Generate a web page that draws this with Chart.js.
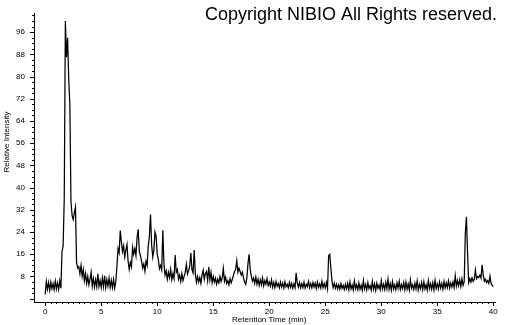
<!DOCTYPE html>
<html>
<head>
<meta charset="utf-8">
<title>Chromatogram</title>
<script src="https://cdn.jsdelivr.net/npm/chart.js"></script>
<style>
    html, body { margin: 0; padding: 0; background: #fff; }
    #wrap { width: 505px; height: 325px; position: relative; }
</style>
</head>
<body>
<div id="wrap"><canvas id="chromatogram" width="505" height="325"></canvas></div>
<script>
// Sampling grid of the trace (min)
const SCAN_STEP = 0.1;

// Relative intensity, one value per scan, in four runs of retention time
const intensity0to10 = [
    1.5, 6.2, 3.4, 5.8, 3.1, 6.0, 3.6, 5.4, 3.2, 6.3,
    3.5, 5.7, 3.3, 6.4, 3.8, 17.0, 19.0, 36.0, 100.0, 87.0,
    94.0, 79.0, 70.0, 35.0, 30.0, 28.5, 31.0, 33.0, 13.0, 11.0,
    11.5, 9.0, 12.0, 8.0, 10.5, 6.5, 9.0, 5.5, 8.0, 5.0,
    7.0, 9.5, 4.5, 7.2, 4.2, 6.8, 4.3, 9.0, 4.4, 6.5,
    4.0, 7.5, 4.3, 8.2, 4.0, 6.9, 4.5, 7.4, 4.1, 6.6,
    4.0, 7.0, 3.8, 6.0, 11.5, 18.0, 16.5, 24.5, 20.5, 17.0,
    19.0, 15.0, 17.5, 19.5, 13.5, 10.5, 13.0, 11.5, 18.5, 16.0,
    18.0, 15.5, 22.0, 25.0, 17.0, 15.5, 13.5, 11.0, 12.5, 9.9,
    13.5, 12.0, 19.0, 22.5, 30.3, 19.5, 15.0, 17.5, 24.0, 22.5
];
const intensity10to20 = [
    16.0, 14.0, 10.8, 12.0, 10.4, 24.6, 12.5, 8.5, 10.0, 7.0,
    9.5, 7.5, 10.5, 6.8, 9.0, 7.2, 15.7, 9.5, 10.5, 7.0,
    8.5, 6.2, 9.0, 6.5, 8.0, 9.5, 12.4, 8.9, 10.0, 11.8,
    16.4, 10.5, 9.3, 17.5, 9.0, 5.9, 8.0, 6.0, 7.6, 5.5,
    8.5, 10.3, 7.0, 9.0, 9.8, 6.5, 11.4, 6.8, 9.5, 5.8,
    8.0, 6.0, 7.4, 5.2, 7.0, 5.7, 8.0, 6.2, 7.5, 10.9,
    6.3, 7.8, 5.5, 6.5, 5.0, 7.2, 5.7, 7.0, 8.4, 9.8,
    10.5, 13.7, 9.5, 11.0, 9.8, 8.5, 9.5, 7.5, 6.0, 5.2,
    7.5, 12.6, 16.0, 10.5, 8.0, 6.3, 7.5, 5.5, 7.8, 5.2,
    7.0, 4.8, 6.8, 5.0, 7.5, 4.6, 6.5, 5.2, 7.2, 4.8
];
const intensity20to30 = [
    6.0, 4.5, 6.8, 4.2, 5.8, 4.0, 6.2, 4.5, 5.5, 3.9,
    6.0, 4.2, 5.6, 3.8, 6.1, 4.3, 5.2, 3.9, 5.9, 4.1,
    5.5, 3.8, 5.3, 4.0, 9.3, 5.6, 4.2, 5.8, 3.9, 5.4,
    4.0, 6.0, 3.8, 5.2, 4.3, 6.2, 4.0, 5.5, 3.9, 5.8,
    4.2, 5.6, 3.7, 6.0, 4.1, 5.3, 3.8, 6.3, 4.0, 5.5,
    3.9, 5.8, 3.6, 15.5, 16.0, 11.0, 6.3, 4.0, 5.6, 3.8,
    5.2, 3.5, 5.0, 3.4, 5.4, 3.7, 4.8, 3.3, 5.2, 3.6,
    5.5, 3.2, 6.0, 3.5, 4.9, 3.1, 6.4, 3.6, 5.0, 3.3,
    5.7, 3.4, 4.8, 3.0, 6.6, 3.5, 5.1, 3.2, 5.8, 3.6,
    4.7, 3.1, 6.2, 3.4, 5.3, 3.0, 5.6, 3.7, 4.9, 3.2
];
const intensity30to40 = [
    6.5, 3.5, 5.2, 3.3, 5.9, 3.6, 7.0, 3.4, 5.4, 3.1,
    6.1, 3.5, 5.0, 3.2, 5.7, 3.8, 6.3, 3.3, 5.1, 3.6,
    5.8, 3.2, 6.0, 3.4, 5.3, 3.1, 6.8, 3.7, 5.0, 3.3,
    5.6, 3.5, 6.4, 3.2, 5.2, 3.6, 5.9, 3.3, 6.1, 3.5,
    5.0, 3.1, 6.5, 3.6, 5.4, 3.4, 5.8, 3.2, 6.6, 3.7,
    5.3, 3.5, 6.0, 3.8, 5.5, 3.4, 6.2, 3.9, 5.7, 4.0,
    6.4, 3.8, 5.6, 4.2, 6.0, 4.1, 8.3, 4.5, 6.5, 4.6,
    6.8, 4.4, 7.2, 4.8, 6.0, 23.5, 29.5, 16.6, 5.8, 7.2,
    6.0, 7.5, 6.2, 7.0, 10.3, 7.2, 8.0, 7.6, 8.5, 7.4,
    12.2, 8.5, 6.3, 7.0, 5.8, 6.5, 5.5, 8.1, 5.5, 4.8,
    4.3
];

// Labelled ticks
const timeTicks = [0, 5, 10, 15, 20, 25, 30, 35, 40];
const intensityTicks = [8, 16, 24, 32, 40, 48, 56, 64, 72, 80, 88, 96];

const intensity = [...intensity0to10, ...intensity10to20, ...intensity20to30, ...intensity30to40];
const trace = intensity.map((v, i) => ({ x: Math.round(i * SCAN_STEP * 10) / 10, y: v }));

// Minor/major tick marks plus the axis titles and the notice
const decor = {
    id: 'decor',
    afterDraw(chart) {
        const { ctx, chartArea: area, scales: { x, y } } = chart;
        ctx.save();
        ctx.strokeStyle = '#000';
        ctx.lineWidth = 1;
        ctx.beginPath();
        for (let t = 0; t <= 40; t += 0.5) {
            const px = Math.round(x.getPixelForValue(t)) + 0.5;
            const len = t % 5 === 0 ? 4 : 2;
            ctx.moveTo(px, area.bottom);
            ctx.lineTo(px, area.bottom + len);
        }
        for (let v = 0; v <= 102; v += 2) {
            const py = Math.round(y.getPixelForValue(v)) + 0.5;
            const len = v % 8 === 0 ? 4 : 2;
            ctx.moveTo(area.left, py);
            ctx.lineTo(area.left - len, py);
        }
        ctx.stroke();

        ctx.fillStyle = '#000';
        ctx.font = '8px "Liberation Sans", Arial, sans-serif';
        ctx.textAlign = 'center';
        ctx.textBaseline = 'middle';
        ctx.fillText('Retention Time (min)', x.getPixelForValue(20), 320);

        ctx.save();
        ctx.translate(7, 142);
        ctx.rotate(-Math.PI / 2);
        ctx.fillText('Relative Intensity', 0, 0);
        ctx.restore();

        ctx.font = '18px "Liberation Sans", Arial, sans-serif';
        ctx.textAlign = 'right';
        ctx.textBaseline = 'alphabetic';
        ctx.fillText('Copyright NIBIO All Rights reserved.', 497, 20);
        ctx.restore();
    }
};

Chart.defaults.font.family = '"Liberation Sans", Arial, sans-serif';
Chart.defaults.font.size = 8;
Chart.defaults.color = '#000';

new Chart(document.getElementById('chromatogram'), {
    type: 'line',
    data: {
        datasets: [{
            data: trace,
            borderColor: '#000',
            borderWidth: 1.25,
            pointRadius: 0,
            tension: 0,
            fill: false
        }]
    },
    options: {
        responsive: false,
        animation: false,
        layout: { padding: { top: 0, right: 10, bottom: 0, left: 0 } },
        plugins: { legend: { display: false }, tooltip: { enabled: false } },
        scales: {
            x: {
                type: 'linear',
                min: -1,
                max: 40.15,
                afterFit: s => { s.height = 23; },
                afterBuildTicks: s => { s.ticks = timeTicks.map(v => ({ value: v })); },
                grid: { display: false, drawTicks: false },
                border: { display: true, color: '#000', width: 1 },
                ticks: { padding: 5, maxRotation: 0, autoSkip: false }
            },
            y: {
                min: -1.2,
                max: 102.6,
                afterFit: s => { s.width = 34; },
                afterBuildTicks: s => { s.ticks = intensityTicks.map(v => ({ value: v })); },
                grid: { display: false, drawTicks: false },
                border: { display: true, color: '#000', width: 1 },
                ticks: { padding: 9, autoSkip: false }
            }
        }
    },
    plugins: [decor]
});
</script>
</body>
</html>
